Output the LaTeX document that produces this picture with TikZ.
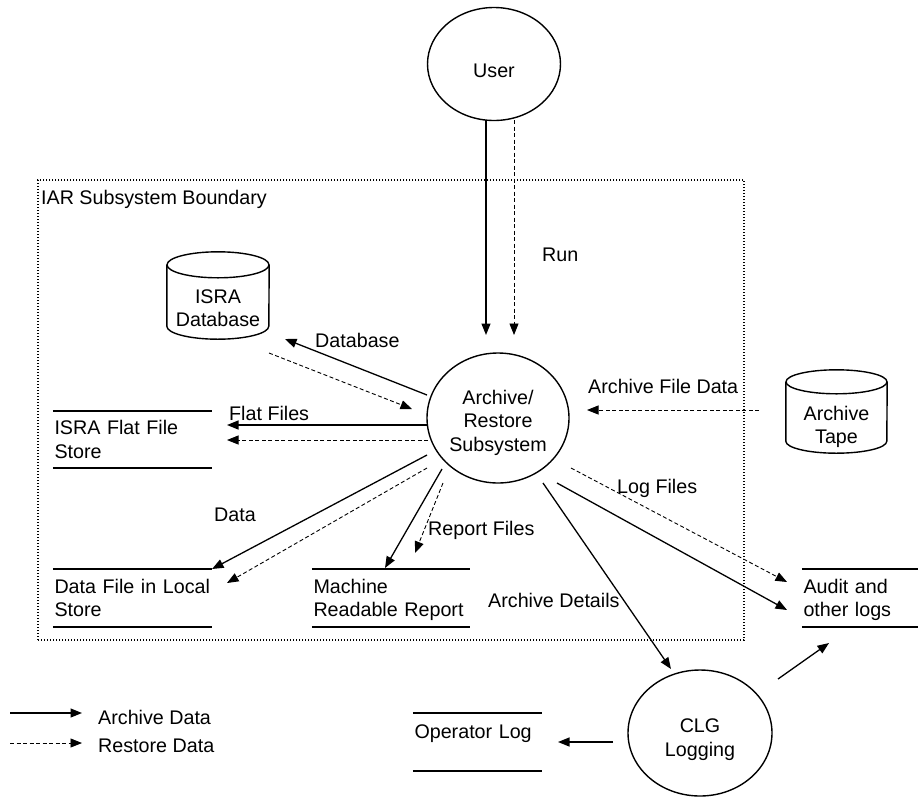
\documentclass[tikz,border=0pt]{standalone}
\usepackage{fontspec}
\setmainfont{Liberation Sans}
\usetikzlibrary{arrows.meta,shapes.geometric}
\newcommand{\drawcyl}[3]{%
  \draw[line width=1.4pt] ([yshift=-#3]#1.north west) -- ([yshift=#3]#1.south west)
    arc[start angle=180,end angle=360,x radius=#2,y radius=#3] -- ([yshift=-#3]#1.north east);
  \draw[line width=1.4pt] ([yshift=-#3]#1.north) ellipse[x radius=#2,y radius=#3];}
\begin{document}
\begin{tikzpicture}[x=1pt,y=-1pt,
  font=\fontsize{19.7pt}{23.5pt}\selectfont,
  every node/.style={inner sep=0pt,text depth=0pt},
  proc/.style={ellipse,draw,line width=1.4pt,align=center},
  store/.style={rectangle,inner xsep=1.5pt,inner ysep=0pt,align=left,text depth=23.5pt},
  storeline/.style={line width=1.8pt},
  cyl/.style={rectangle,align=center,text height=62pt},
  lbl/.style={anchor=west},
  arch/.style={line width=1.3pt,-{Triangle[length=11.5pt,width=9pt]}},
  rest/.style={line width=0.9pt,dash pattern=on 4pt off 2.5pt,-{Triangle[length=11.5pt,width=9pt]}},
  bound/.style={draw,line width=1.4pt,dash pattern=on 1.4pt off 1.6pt}
]
\path[use as bounding box] (0,0) rectangle (918,796);

% boundary
\node[bound,minimum width=706pt,minimum height=460pt] (boundary) at (391,410) {};
\node[lbl] (lblboundary) at (41,197) {IAR Subsystem Boundary};

% processes
\node[proc,minimum width=133pt,minimum height=113pt,text height=26pt] (user) at (494,64) {User};
\node[proc,minimum width=142pt,minimum height=130pt,text height=66pt] (ars) at (498,418) {Archive/\\Restore\\Subsystem};
\node[proc,minimum width=144pt,minimum height=126pt,text height=46pt] (clg) at (700,733) {CLG\\Logging};

% cylinders
\node[cyl,minimum width=102pt,minimum height=87pt] (isradb) at (218,295.5) {ISRA\\Database};
\drawcyl{isradb}{51pt}{13pt}
\node[cyl,minimum width=101pt,minimum height=83pt,text height=64pt] (tape) at (836.5,411.5) {Archive\\Tape};
\drawcyl{tape}{50.5pt}{12pt}

% stores
\node[store,text width=156pt,minimum height=57pt] (flat) at (132.5,439.5) {ISRA Flat File\\Store};
\node[store,text width=156pt,minimum height=58pt] (datafile) at (132.5,598) {Data File in Local\\Store};
\node[store,text width=155pt,minimum height=58pt] (machine) at (391,598) {Machine\\Readable Report};
\node[store,text width=113pt,minimum height=58pt] (audit) at (860,598) {Audit and\\other logs};
\node[store,text width=126pt,minimum height=58pt,text depth=20.4pt] (oplog) at (477.5,742) {Operator Log};
\foreach \s in {flat,datafile,machine,audit,oplog}{
  \draw[storeline] (\s.north west) -- (\s.north east) (\s.south west) -- (\s.south east);
}

% labels
\node[lbl] (lrun) at (542,255) {Run};
\node[lbl] (ldb) at (315,340) {Database};
\node[lbl] (lflat) at (229,413) {Flat Files};
\node[lbl] (ldata) at (214,515) {Data};
\node[lbl] (lreport) at (428,528) {Report Files};
\node[lbl] (ldetails) at (488,600) {Archive Details};
\node[lbl] (llog) at (617,486) {Log Files};
\node[lbl] (lafd) at (588,386) {Archive File Data};

% connectors
\draw[arch] ([shift={(-8,56)}]user.center) -- ([shift={(-12,-83)}]ars.center);
\draw[rest] ([shift={(20,56)}]user.center) -- ([shift={(16,-83)}]ars.center);
\draw[arch] ([shift={(-71,-23)}]ars.center) -- ([shift={(67,43.5)}]isradb.center);
\draw[rest] ([shift={(51,57.5)}]isradb.center) -- ([shift={(-86,-9)}]ars.center);
\draw[arch] ([shift={(-70,7)}]ars.center) -- ([shift={(94.5,-14.5)}]flat.center);
\draw[rest] ([shift={(-70,22)}]ars.center) -- ([shift={(94.5,0.5)}]flat.center);
\draw[arch] ([shift={(-71,37)}]ars.center) -- ([shift={(79.5,-29)}]datafile.center);
\draw[rest] ([shift={(-71,50)}]ars.center) -- ([shift={(94.5,-15)}]datafile.center);
\draw[arch] ([shift={(-56,51)}]ars.center) -- ([shift={(-6,-30)}]machine.center);
\draw[rest] ([shift={(-55,65)}]ars.center) -- ([shift={(24,-45)}]machine.center);
\draw[arch] ([shift={(45,65)}]ars.center) -- ([shift={(-29,-64)}]clg.center);
\draw[arch] ([shift={(59,65)}]ars.center) -- ([shift={(-73,12)}]audit.center);
\draw[rest] ([shift={(73,50)}]ars.center) -- ([shift={(-73,-16)}]audit.center);
\draw[rest] ([shift={(-77.5,-1.5)}]tape.center) -- ([shift={(89,-8)}]ars.center);
\draw[arch] ([shift={(78,-54)}]clg.center) -- ([shift={(-31,45)}]audit.center);
\draw[arch] ([shift={(-87,9)}]clg.center) -- ([shift={(80.5,0)}]oplog.center);

% legend
\node[lbl] (legA) at (98,717) {Archive Data};
\node[lbl] (legR) at (98,746) {Restore Data};
\coordinate (legAstart) at (10,713);
\coordinate (legRstart) at (10,743);
\draw[arch] (legAstart) -- ([shift={(-16,-4)}]legA.west);
\draw[rest] (legRstart) -- ([shift={(-16,-3)}]legR.west);
\end{tikzpicture}
\end{document}
